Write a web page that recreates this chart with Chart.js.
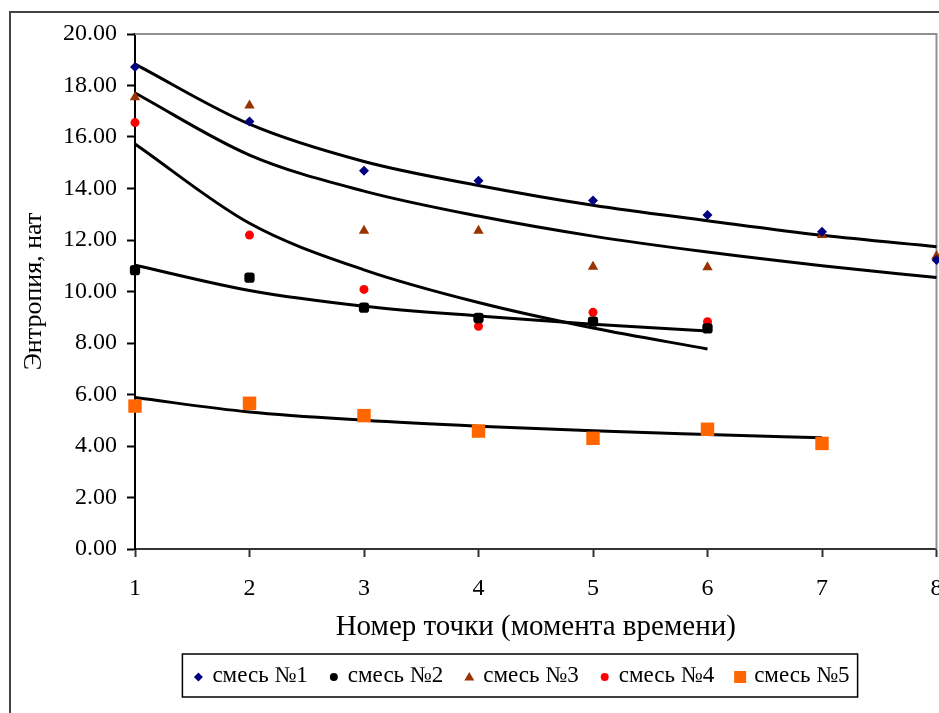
<!DOCTYPE html>
<html>
<head>
    <meta charset="utf-8"/>
    <title>Энтропия смесей</title>
    <style>
        body { margin: 0; background: #fff; overflow: hidden; }
        #wrap { width: 939px; height: 713px; overflow: hidden; }
        #entropyChart { display: block; }
    </style>
</head>
<body>
    <!-- the chart is a little wider than the window, the right edge is cut like in the original -->
    <div id="wrap"><canvas id="entropyChart" width="946" height="713"></canvas></div>

    <script src="https://cdn.jsdelivr.net/npm/chart.js@4.4.0/dist/chart.umd.min.js"></script>
    <script>
        // point numbers (x axis)
        const pointNo = [1, 2, 3, 4, 5, 6, 7, 8];
        const yTicks = [0, 2, 4, 6, 8, 10, 12, 14, 16, 18, 20];

        const mix1 = [18.72, 16.60, 14.69, 14.30, 13.53, 12.97, 12.32, 11.22];
        const mix2 = [10.83, 10.54, 9.37, 8.97, 8.83, 8.57];
        const mix3 = [17.54, 17.22, 12.36, 12.36, 10.96, 10.94, 12.19, 11.38];
        const mix4 = [16.56, 12.19, 10.08, 8.65, 9.19, 8.83];
        const mix5 = [5.55, 5.66, 5.18, 4.58, 4.30, 4.65, 4.10];

        // black trend lines, read at each point number
        const trend1 = [18.83, 16.50, 15.05, 14.12, 13.35, 12.75, 12.18, 11.74];
        const trend2 = [11.02, 10.04, 9.43, 9.05, 8.73, 8.47];
        const trend3 = [17.71, 15.30, 13.90, 12.93, 12.15, 11.53, 11.00, 10.54];
        const trend4 = [15.73, 12.65, 10.84, 9.57, 8.58, 7.77];
        const trend5 = [5.88, 5.32, 5.00, 4.77, 4.59, 4.45, 4.32];

        const seriesNames = ['смесь №1', 'смесь №2', 'смесь №3', 'смесь №4', 'смесь №5'];

        const FONT = '"Liberation Serif", "Times New Roman", serif';

        function pts(values) {
            return values.map((v, i) => ({ x: pointNo[i], y: v }));
        }

        function markerSet(label, values, color, style, radius) {
            return {
                label: label,
                data: pts(values),
                pointStyle: style,
                pointRadius: radius,
                pointHoverRadius: radius,
                backgroundColor: color,
                borderColor: color,
                borderWidth: 0,
                showLine: false,
                clip: false
            };
        }

        function trendSet(values) {
            return {
                label: '',
                data: pts(values),
                showLine: true,
                borderColor: '#000',
                borderWidth: 3,
                pointRadius: 0,
                cubicInterpolationMode: 'monotone',
                clip: false
            };
        }

        // legend marker look (the legend shows a round marker for mix 2)
        const legendMarks = [
            { style: 'diamond', color: '#000080', r: 4.5 },
            { style: 'circle', color: '#000000', r: 4 },
            { style: 'triangle', color: '#993300', r: 5 },
            { style: 'circle', color: '#ff0000', r: 4 },
            { style: 'square', color: '#ff6600', r: 6 }
        ];

        function drawMark(ctx, m, x, y) {
            ctx.fillStyle = m.color;
            ctx.beginPath();
            if (m.style === 'circle') {
                ctx.arc(x, y, m.r, 0, Math.PI * 2);
            } else if (m.style === 'diamond') {
                ctx.moveTo(x, y - m.r);
                ctx.lineTo(x + m.r, y);
                ctx.lineTo(x, y + m.r);
                ctx.lineTo(x - m.r, y);
            } else if (m.style === 'triangle') {
                ctx.moveTo(x, y - m.r);
                ctx.lineTo(x + m.r, y + m.r * 0.7);
                ctx.lineTo(x - m.r, y + m.r * 0.7);
            } else {
                ctx.rect(x - m.r, y - m.r, m.r * 2, m.r * 2);
            }
            ctx.closePath();
            ctx.fill();
        }

        const framePlugin = {
            id: 'framePlugin',
            beforeDatasetsDraw(chart) {
                const ctx = chart.ctx;
                const a = chart.chartArea;
                ctx.save();
                ctx.strokeStyle = '#909090';
                ctx.lineWidth = 2;
                ctx.beginPath();
                ctx.moveTo(a.left, a.top);
                ctx.lineTo(a.right, a.top);
                ctx.lineTo(a.right, a.bottom);
                ctx.stroke();
                ctx.restore();
            },
            afterDraw(chart) {
                const ctx = chart.ctx;
                ctx.save();
                // outer chart frame
                ctx.strokeStyle = '#444';
                ctx.lineWidth = 2;
                ctx.strokeRect(10, 12, 1000, 800);

                // legend
                ctx.font = '23px ' + FONT;
                ctx.textBaseline = 'middle';
                const widths = seriesNames.map(n => ctx.measureText(n).width);
                const markW = 16, gapAfterMark = 6, gapItem = 18;
                let total = 0;
                widths.forEach((w, i) => { total += markW + gapAfterMark + w + (i < widths.length - 1 ? gapItem : 0); });
                const cx = 520, cy = 676;
                const padX = 8;
                const boxL = cx - total / 2 - padX, boxR = cx + total / 2 + padX;
                ctx.strokeStyle = '#000';
                ctx.lineWidth = 1.5;
                ctx.strokeRect(boxL, 654, boxR - boxL, 43);
                let x = cx - total / 2;
                seriesNames.forEach((n, i) => {
                    drawMark(ctx, legendMarks[i], x + markW / 2, cy + 1);
                    x += markW + gapAfterMark;
                    ctx.fillStyle = '#000';
                    ctx.fillText(n, x, cy);
                    x += widths[i] + gapItem;
                });
                ctx.restore();
            }
        };

        const ctx = document.getElementById('entropyChart').getContext('2d');
        new Chart(ctx, {
            type: 'scatter',
            data: {
                datasets: [
                    markerSet(seriesNames[0], mix1, '#000080', 'rectRot', 5),
                    markerSet(seriesNames[1], mix2, '#000000', 'rectRounded', 6),
                    markerSet(seriesNames[2], mix3, '#993300', 'triangle', 6),
                    markerSet(seriesNames[3], mix4, '#ff0000', 'circle', 4.5),
                    markerSet(seriesNames[4], mix5, '#ff6600', 'rect', 9.5),
                    trendSet(trend1),
                    trendSet(trend2),
                    trendSet(trend3),
                    trendSet(trend4),
                    trendSet(trend5)
                ]
            },
            options: {
                responsive: false,
                animation: false,
                events: [],
                layout: { padding: { left: 0, top: 34, right: 2, bottom: 68 } },
                plugins: {
                    legend: { display: false },
                    tooltip: { enabled: false }
                },
                scales: {
                    x: {
                        type: 'linear',
                        min: 1,
                        max: 8,
                        afterFit(scale) {
                            scale.height = 96;
                            scale.paddingLeft = 0;
                            scale.paddingRight = 0;
                        },
                        afterBuildTicks(scale) { scale.ticks = pointNo.map(v => ({ value: v })); },
                        ticks: {
                            color: '#000',
                            padding: 17,
                            maxRotation: 0,
                            font: { family: FONT, size: 24 },
                            callback: v => String(v)
                        },
                        grid: {
                            drawOnChartArea: false,
                            drawTicks: true,
                            tickLength: 8,
                            tickColor: '#333',
                            tickWidth: 2
                        },
                        border: { display: true, color: '#333', width: 2 },
                        title: {
                            display: true,
                            text: 'Номер точки (момента времени)',
                            color: '#000',
                            font: { family: FONT, size: 29 },
                            padding: { top: 0, bottom: 0 }
                        }
                    },
                    y: {
                        min: 0,
                        max: 20,
                        afterFit(scale) {
                            scale.width = 135;
                            scale.paddingTop = 0;
                            scale.paddingBottom = 0;
                        },
                        afterBuildTicks(scale) { scale.ticks = yTicks.map(v => ({ value: v })); },
                        ticks: {
                            color: '#000',
                            padding: 10,
                            font: { family: FONT, size: 24 },
                            callback: v => v.toFixed(2)
                        },
                        grid: {
                            drawOnChartArea: false,
                            drawTicks: true,
                            tickLength: 8,
                            tickColor: '#000',
                            tickWidth: 2
                        },
                        border: { display: true, color: '#000', width: 2 },
                        title: {
                            display: true,
                            text: 'Энтропия, нат',
                            color: '#000',
                            font: { family: FONT, size: 26 },
                            padding: { top: 19, bottom: 0 }
                        }
                    }
                }
            },
            plugins: [framePlugin]
        });
    </script>
</body>
</html>
